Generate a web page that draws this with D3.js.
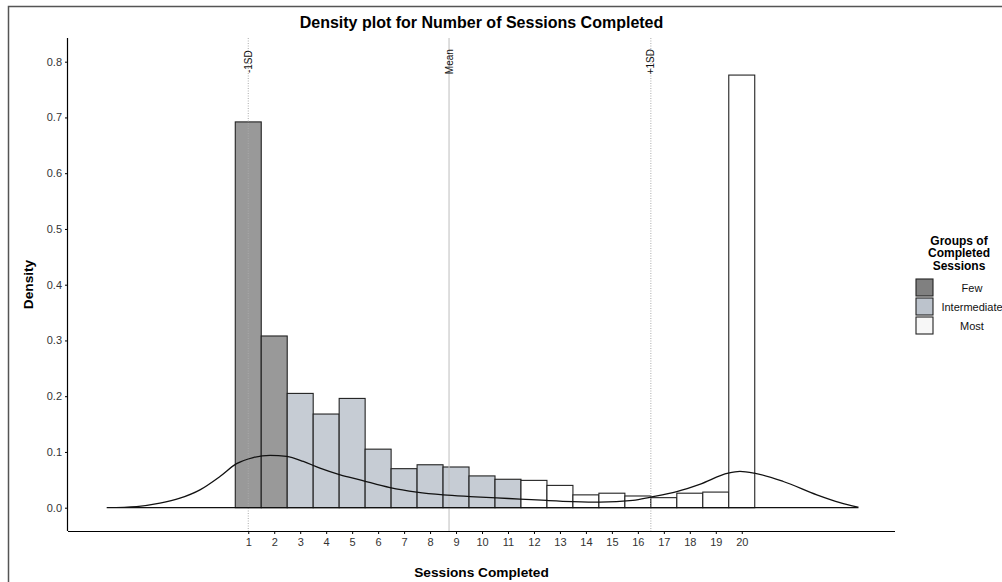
<!DOCTYPE html>
<html>
<head>
<meta charset="utf-8">
<script src="https://cdn.jsdelivr.net/npm/d3@7"></script>
<style>
  body { margin: 0; background: #fff; }
  svg { font-family: "Liberation Sans", Arial, Helvetica, sans-serif; }
  .axis path, .axis line { stroke: #000; }
  .axis text { fill: #333; font-size: 11px; }
</style>
</head>
<body>
<div id="chart"></div>
<script>
// sessions completed (histogram bins) and density per group
var sessions = [1, 2, 3, 4, 5, 6, 7, 8, 9, 10, 11, 12, 13, 14, 15, 16, 17, 18, 19, 20];
var density = [0.692, 0.308, 0.205, 0.168, 0.196, 0.105, 0.070, 0.077, 0.073, 0.057,
               0.051, 0.049, 0.040, 0.023, 0.026, 0.021, 0.018, 0.026, 0.028, 0.776];
var group = ["Few", "Few", "Intermediate", "Intermediate", "Intermediate", "Intermediate",
             "Intermediate", "Intermediate", "Intermediate", "Intermediate", "Intermediate",
             "Most", "Most", "Most", "Most", "Most", "Most", "Most", "Most", "Most"];
var groups = ["Few", "Intermediate", "Most"];

// density curve
var curveX = [-4.45, -3.3, -2.4, -1.63, -0.86, -0.09, 0.55, 1.19, 1.84, 2.48, 3.12, 3.76, 4.54, 5.3,
              6.46, 7.48, 8.51, 9.54, 10.56, 11.46, 12.49, 13.5, 14.54, 15.81, 16.5, 17.5, 18.38,
              19.48, 19.93, 20.48, 21.6, 22.89, 23.78, 24.47];
var curveY = [0.000, 0.002, 0.008, 0.017, 0.032, 0.056, 0.079, 0.090, 0.094, 0.092, 0.083, 0.071, 0.059, 0.050,
              0.036, 0.028, 0.023, 0.020, 0.0175, 0.0155, 0.013, 0.011, 0.010, 0.013, 0.019, 0.029, 0.042,
              0.062, 0.065, 0.062, 0.047, 0.023, 0.009, 0.001];

// reference lines
var refLabels = ["-1SD", "Mean", "+1SD"];
var refValues = [1.0, 8.73, 16.5];

var yTicks = [0, 0.1, 0.2, 0.3, 0.4, 0.5, 0.6, 0.7, 0.8];

var W = 1002, H = 582;
var plot = {left: 68, right: 895, top: 38, bottom: 531};

var barFill = d3.scaleOrdinal().domain(groups).range(["#999999", "#c6ccd4", "#ffffff"]);
var keyFill = d3.scaleOrdinal().domain(groups).range(["#808080", "#bcc3cc", "#f7f7f7"]);

var x = d3.scaleLinear().domain([-5.94, 25.9]).range([plot.left, plot.right]);
var y = d3.scaleLinear().domain([-0.0418, 0.8425]).range([plot.bottom, plot.top]);

var svg = d3.select("#chart").append("svg")
    .attr("width", W)
    .attr("height", H);

// outer frame
svg.append("rect")
    .attr("x", 8.5).attr("y", 6.5)
    .attr("width", W + 20).attr("height", H + 20)
    .attr("fill", "none")
    .attr("stroke", "#555")
    .attr("stroke-width", 1.5);

// bars
svg.append("g").selectAll("rect")
    .data(sessions)
    .enter().append("rect")
    .attr("x", function(d) { return x(d - 0.5); })
    .attr("width", function(d) { return x(d + 0.5) - x(d - 0.5); })
    .attr("y", function(d, i) { return y(density[i]); })
    .attr("height", function(d, i) { return y(0) - y(density[i]); })
    .attr("fill", function(d, i) { return barFill(group[i]); })
    .attr("stroke", "#222")
    .attr("stroke-width", 1.1);

// reference lines
var ref = svg.append("g").selectAll("g")
    .data(refValues)
    .enter().append("g");

ref.append("line")
    .attr("x1", function(d) { return x(d); })
    .attr("x2", function(d) { return x(d); })
    .attr("y1", plot.top)
    .attr("y2", plot.bottom)
    .attr("stroke", function(d, i) { return i == 1 ? "#bdbdbd" : "#aaa"; })
    .attr("stroke-width", 1)
    .attr("stroke-dasharray", function(d, i) { return i == 1 ? null : "1,1.5"; });

ref.append("text")
    .attr("transform", function(d) { return "translate(" + x(d) + "," + y(0.8) + ") rotate(-90)"; })
    .attr("text-anchor", "middle")
    .attr("dy", "0.35em")
    .style("font-size", "10px")
    .attr("fill", "#111")
    .text(function(d, i) { return refLabels[i]; });

// density curve (outline incl. baseline)
var pts = curveX.map(function(v, i) { return [v, curveY[i]]; });
var area = d3.area()
    .x(function(d) { return x(d[0]); })
    .y0(y(0))
    .y1(function(d) { return y(d[1]); })
    .curve(d3.curveMonotoneX);

svg.append("path")
    .datum(pts)
    .attr("d", area)
    .attr("fill", "none")
    .attr("stroke", "#111")
    .attr("stroke-width", 1.3);

// axes
svg.append("g")
    .attr("class", "axis")
    .attr("transform", "translate(0," + plot.bottom + ")")
    .call(d3.axisBottom(x).tickValues(sessions).tickSize(3).tickSizeOuter(0).tickPadding(4))
    .call(function(g) { g.select(".domain").attr("d", "M" + plot.left + ",0.5H" + plot.right).attr("stroke-width", 1.2); });

svg.append("g")
    .attr("class", "axis")
    .attr("transform", "translate(" + plot.left + ",0)")
    .call(d3.axisLeft(y).tickValues(yTicks).tickFormat(d3.format(".1f")).tickSize(3).tickSizeOuter(0).tickPadding(3))
    .call(function(g) { g.select(".domain").attr("d", "M-0.5," + plot.top + "V" + plot.bottom).attr("stroke-width", 1.2); });

// title and axis titles
svg.append("text")
    .attr("x", (plot.left + plot.right) / 2)
    .attr("y", 27.5)
    .attr("text-anchor", "middle")
    .style("font-size", "16px")
    .style("font-weight", "bold")
    .text("Density plot for Number of Sessions Completed");

svg.append("text")
    .attr("x", (plot.left + plot.right) / 2)
    .attr("y", 577)
    .attr("text-anchor", "middle")
    .style("font-size", "13.7px")
    .style("font-weight", "bold")
    .text("Sessions Completed");

svg.append("text")
    .attr("transform", "translate(33," + (plot.top + plot.bottom) / 2 + ") rotate(-90)")
    .attr("text-anchor", "middle")
    .style("font-size", "13.7px")
    .style("font-weight", "bold")
    .text("Density");

// legend
var legend = svg.append("g");
["Groups of", "Completed", "Sessions"].forEach(function(t, i) {
  legend.append("text")
      .attr("x", 959)
      .attr("y", 245 + i * 12.3)
      .attr("text-anchor", "middle")
      .style("font-size", "12px")
      .style("font-weight", "bold")
      .text(t);
});

var keys = legend.selectAll("g.key")
    .data(groups)
    .enter().append("g")
    .attr("class", "key")
    .attr("transform", function(d, i) { return "translate(916," + (279 + i * 19) + ")"; });

keys.append("rect")
    .attr("width", 17)
    .attr("height", 17)
    .attr("fill", function(d) { return keyFill(d); })
    .attr("stroke", "#222")
    .attr("stroke-width", 1.1);

keys.append("text")
    .attr("x", 56)
    .attr("y", 9)
    .attr("dy", "0.35em")
    .attr("text-anchor", "middle")
    .style("font-size", "11px")
    .attr("fill", "#111")
    .text(function(d) { return d; });
</script>
</body>
</html>
